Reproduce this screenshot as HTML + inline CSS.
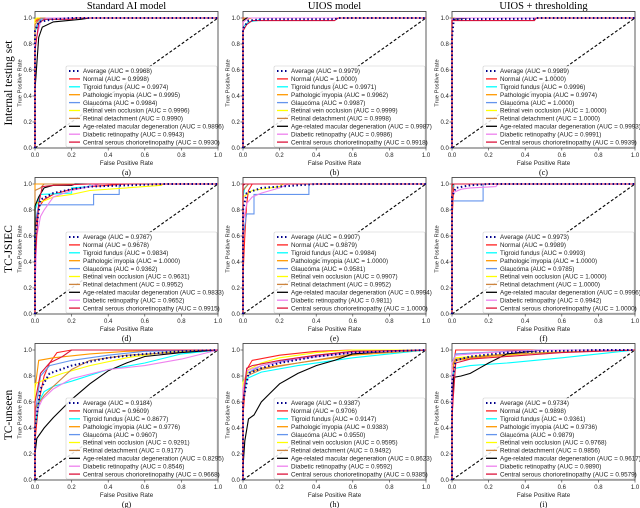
<!DOCTYPE html>
<html><head><meta charset="utf-8"><style>
html,body{margin:0;padding:0;background:#fff;}
svg{display:block;}
</style></head><body>
<svg id="fig" width="640" height="508" viewBox="0 0 640 508" xmlns="http://www.w3.org/2000/svg"></svg>
<script>
const seriesNames = ["Average","Normal","Tigroid fundus","Pathologic myopia","Glaucoma","Retinal vein occlusion","Retinal detachment","Age-related macular degeneration","Diabetic retinopathy","Central serous chorioretinopathy"];
const seriesColors = ["#00008b","#ff2020","#00ffff","#ff9900","#6495ed","#ffff00","#cd853f","#000000","#ee82ee","#dc143c"];
const panelLetters = ["a","b","c","d","e","f","g","h","i"];
const colTitles = ["Standard AI model","UIOS model","UIOS + thresholding"];
const rowTitles = ["Internal testing set","TC-JSIEC","TC-unseen"];
const xTicks = [0,0.2,0.4,0.6,0.8,1.0];
const yTicks = [0,0.2,0.4,0.6,0.8,1.0];
const aucA = ["0.9968","0.9998","0.9974","0.9995","0.9984","0.9996","0.9990","0.9896","0.9943","0.9930"];
const aucB = ["0.9979","1.0000","0.9971","0.9962","0.9987","0.9999","0.9998","0.9987","0.9986","0.9918"];
const aucC = ["0.9989","1.0000","0.9996","0.9974","1.0000","1.0000","1.0000","0.9993","0.9991","0.9939"];
const aucD = ["0.9767","0.9678","0.9834","1.0000","0.9362","0.9631","0.9952","0.9833","0.9652","0.9915"];
const aucE = ["0.9907","0.9879","0.9984","1.0000","0.9581","0.9907","0.9952","0.9994","0.9811","1.0000"];
const aucF = ["0.9973","0.9989","0.9993","1.0000","0.9785","1.0000","1.0000","0.9996","0.9942","1.0000"];
const aucG = ["0.9184","0.9609","0.8677","0.9776","0.9607","0.9291","0.9177","0.8295","0.8546","0.9668"];
const aucH = ["0.9387","0.9706","0.9147","0.9383","0.9550","0.9595","0.9492","0.8623","0.9592","0.9385"];
const aucI = ["0.9734","0.9898","0.9361","0.9736","0.9879","0.9768","0.9856","0.9617","0.9890","0.9579"];
const curvesA = [[0,0,0,0.9,0.02,0.97,0.1,0.99,0.2,1,1,1],[0,0,0,0.97,0.03,1,1,1],[0,0,0,0.9,0.03,0.98,0.1,1,1,1],[0,0,0,0.98,0.02,1,1,1],[0,0,0,0.92,0.03,0.99,0.06,1,1,1],[0,0,0,0.99,0.01,1,1,1],[0,0,0,0.95,0.03,1,1,1],[0,0,0,0.45,0.02,0.85,0.04,0.93,0.1,0.97,0.25,0.99,0.3,1,1,1],[0,0,0,0.8,0.03,0.97,0.06,1,1,1],[0,0,0,0.75,0.02,0.96,0.05,0.99,0.2,0.99,0.22,1,1,1]];
const curvesB = [[0,0,0,0.92,0.03,0.98,0.1,0.99,0.5,0.99,0.52,1,1,1],[0,0,0,1,1,1],[0,0,0,0.93,0.03,0.97,0.08,0.98,0.1,1,1,1],[0,0,0,0.97,0.02,0.99,0.05,1,1,1],[0,0,0,0.98,0.02,1,1,1],[0,0,0,0.99,0.01,1,1,1],[0,0,0,0.99,0.01,1,1,1],[0,0,0,0.98,0.02,1,1,1],[0,0,0,0.97,0.03,1,1,1],[0,0,0,0.9,0.02,0.95,0.05,0.98,0.5,0.98,0.52,1,1,1]];
const curvesC = [[0,0,0,0.85,0.01,0.99,0.45,0.995,0.46,1,1,1],[0,0,0,1,1,1],[0,0,0,0.99,0.01,1,1,1],[0,0,0,0.99,0.02,1,1,1],[0,0,0,1,1,1],[0,0,0,1,1,1],[0,0,0,1,1,1],[0,0,0,0.99,0.1,1,1,1],[0,0,0,0.99,0.02,1,1,1],[0,0,0,0.98,0.45,0.98,0.46,1,1,1]];
const curvesD = [[0,0,0,0.6,0.03,0.88,0.1,0.93,0.2,0.96,0.3,0.98,0.5,0.99,0.7,1,1,1],[0,0,0,0.65,0.02,0.82,0.05,0.88,0.1,0.92,0.2,0.96,0.3,0.98,0.5,1,1,1],[0,0,0,0.8,0.03,0.92,0.2,0.93,0.2,0.97,0.3,0.98,0.3,1,1,1],[0,0,0,1,1,1],[0,0,0,0.7,0.02,0.84,0.32,0.84,0.32,0.92,0.46,0.92,0.46,1,1,1],[0,0,0,0.85,0.05,0.87,0.1,0.9,0.2,0.92,0.3,0.95,0.5,0.97,0.69,0.99,0.7,1,1,1],[0,0,0,0.95,0.03,0.97,0.05,1,1,1],[0,0,0,0.83,0.02,0.9,0.05,0.97,0.1,0.99,0.2,0.99,0.22,1,1,1],[0,0,0,0.2,0.01,0.6,0.03,0.75,0.05,0.8,0.1,0.9,0.2,0.95,0.3,0.98,0.35,1,1,1],[0,0,0,0.4,0.02,0.85,0.04,0.98,0.1,0.99,0.3,1,1,1]];
const curvesE = [[0,0,0,0.8,0.02,0.93,0.1,0.97,0.3,0.99,0.4,1,1,1],[0,0,0,0.3,0.01,0.6,0.02,0.85,0.03,0.95,0.05,1,1,1],[0,0,0,0.9,0.01,0.97,0.03,1,1,1],[0,0,0,1,1,1],[0,0,0,0.6,0.02,0.77,0.06,0.77,0.06,0.92,0.36,0.92,0.36,1,1,1],[0,0,0,0.9,0.05,0.95,0.2,0.98,0.22,1,1,1],[0,0,0,0.95,0.03,1,1,1],[0,0,0,0.99,0.01,1,1,1],[0,0,0,0.7,0.02,0.85,0.05,0.9,0.1,0.93,0.2,0.97,0.25,1,1,1],[0,0,0,1,1,1]];
const curvesF = [[0,0,0,0.9,0.02,0.97,0.1,0.99,0.2,1,1,1],[0,0,0,0.72,0.01,1,1,1],[0,0,0,0.95,0.01,1,1,1],[0,0,0,1,1,1],[0,0,0,0.87,0.17,0.87,0.17,1,1,1],[0,0,0,1,1,1],[0,0,0,1,1,1],[0,0,0,0.99,0.01,1,1,1],[0,0,0,0.93,0.05,0.96,0.1,0.97,0.24,0.98,0.25,1,1,1],[0,0,0,1,1,1]];
const curvesG = [[0,0,0,0.4,0.03,0.7,0.08,0.82,0.2,0.88,0.4,0.94,0.6,0.97,0.8,0.99,1,1],[0,0,0,0.3,0.02,0.6,0.05,0.8,0.08,0.9,0.12,0.98,0.2,1,1,1],[0,0,0,0.4,0.02,0.6,0.05,0.68,0.1,0.72,0.2,0.76,0.4,0.85,0.6,0.9,0.8,0.97,1,1],[0,0,0,0.7,0.02,0.92,0.1,0.94,0.3,0.97,0.5,0.99,1,1],[0,0,0,0.5,0.03,0.8,0.08,0.88,0.2,0.92,0.4,0.96,0.6,0.99,1,1],[0,0,0,0.74,0.05,0.77,0.15,0.82,0.3,0.88,0.5,0.94,0.7,0.98,1,1],[0,0,0,0.55,0.05,0.65,0.1,0.72,0.2,0.85,0.3,0.92,0.5,0.96,1,1],[0,0,0,0.2,0.01,0.32,0.05,0.4,0.1,0.48,0.2,0.62,0.3,0.74,0.4,0.84,0.5,0.9,0.6,0.95,0.8,0.98,1,1],[0,0,0,0.5,0.04,0.62,0.1,0.7,0.2,0.78,0.4,0.85,0.6,0.88,0.8,0.93,1,1],[0,0,0,0.6,0.03,0.82,0.08,0.9,0.15,0.95,0.2,1,1,1]];
const curvesH = [[0,0,0,0.6,0.03,0.82,0.1,0.86,0.2,0.9,0.4,0.95,0.6,0.98,1,1],[0,0,0,0.5,0.02,0.85,0.05,0.92,0.2,0.96,0.4,0.99,0.6,1,1,1],[0,0,0,0.6,0.02,0.78,0.1,0.83,0.3,0.88,0.6,0.94,0.8,0.97,1,1],[0,0,0,0.7,0.02,0.82,0.1,0.86,0.3,0.9,0.6,0.96,1,1],[0,0,0,0.7,0.02,0.82,0.1,0.88,0.3,0.94,0.6,0.99,1,1],[0,0,0,0.75,0.03,0.85,0.1,0.9,0.2,0.94,0.4,0.98,0.6,1,1,1],[0,0,0,0.7,0.02,0.8,0.1,0.85,0.3,0.9,0.6,0.97,1,1],[0,0,0,0.1,0.01,0.3,0.03,0.47,0.06,0.5,0.1,0.6,0.15,0.67,0.2,0.74,0.3,0.82,0.4,0.88,0.5,0.92,0.6,0.97,0.8,0.99,1,1],[0,0,0,0.7,0.02,0.84,0.1,0.88,0.3,0.93,0.6,0.98,1,1],[0,0,0,0.6,0.02,0.86,0.05,0.88,0.2,0.92,0.4,0.96,0.6,0.99,1,1]];
const curvesI = [[0,0,0,0.75,0.02,0.92,0.1,0.95,0.3,0.98,0.5,0.99,0.8,1,1,1],[0,0,0,0.4,0.01,0.9,0.02,1,1,1],[0,0,0,0.8,0.02,0.86,0.1,0.88,0.3,0.9,0.6,0.94,0.8,0.97,1,1],[0,0,0,0.85,0.02,0.92,0.2,0.95,0.5,0.98,1,1],[0,0,0,0.9,0.02,0.97,0.3,0.99,0.5,1,1,1],[0,0,0,0.88,0.02,0.94,0.2,0.96,0.5,0.98,1,1],[0,0,0,0.88,0.02,0.93,0.3,0.97,1,1],[0,0,0,0.6,0.01,0.79,0.05,0.8,0.1,0.82,0.15,0.86,0.2,0.9,0.3,0.97,0.5,1,1,1],[0,0,0,0.9,0.02,0.96,0.2,0.98,0.5,1,1,1],[0,0,0,0.5,0.02,0.9,0.1,0.93,0.3,0.95,0.6,0.98,1,1]];
const panelAucs = [aucA,aucB,aucC,aucD,aucE,aucF,aucG,aucH,aucI];
const panelCurves = [curvesA,curvesB,curvesC,curvesD,curvesE,curvesF,curvesG,curvesH,curvesI];

const NS = "http://www.w3.org/2000/svg";
const svg = document.getElementById("fig");
const colX = [35,243,452], rowY1 = [18,184,350], PW = 183, PH = 130;
function mk(tag, attrs, parent){ const e=document.createElementNS(NS,tag); for(const k in attrs) e.setAttribute(k,attrs[k]); (parent||svg).appendChild(e); return e; }
function txt(s, attrs, parent){ const t=mk("text",attrs,parent); t.textContent=s; return t; }

colTitles.forEach((s,i)=>{
  const t = txt(s,{x:colX[i]+PW/2,y:9,"text-anchor":"middle","font-family":"Liberation Serif, serif","font-size":"10.5"});
  
  
});
rowTitles.forEach((s,i)=>{
  const cy = rowY1[i]+PH/2;
  const t = txt(s,{x:0,y:0,transform:`translate(12,${cy}) rotate(-90)`,"text-anchor":"middle","font-family":"Liberation Serif, serif","font-size":"11.5"});
  
  
});

for(let p=0;p<9;p++){
  const c=p%3, r=Math.floor(p/3);
  const x0=colX[c], y1=rowY1[r], y0=y1+PH;
  const sx=v=>x0+v*PW, sy=v=>y0-v*PH;
  const g = mk("g",{});
  
  
  const fr = mk("rect",{x:x0,y:y1-6.5,width:PW,height:PH+6.5,fill:"none",stroke:"#333","stroke-width":0.8},g);
  
  
  xTicks.forEach(v=>{
    mk("line",{x1:sx(v),x2:sx(v),y1:y0,y2:y0+2.5,stroke:"#333","stroke-width":0.6},g);
    const t=txt(v.toFixed(1),{x:sx(v),y:y0+9,"text-anchor":"middle","font-family":"Liberation Sans, sans-serif","font-size":"6",fill:"#222"},g);
    
    
  });
  yTicks.forEach(v=>{
    mk("line",{x1:x0-2.5,x2:x0,y1:sy(v),y2:sy(v),stroke:"#333","stroke-width":0.6},g);
    const t=txt(v.toFixed(1),{x:x0-3.2,y:sy(v)+2.1,"text-anchor":"end","font-family":"Liberation Sans, sans-serif","font-size":"6",fill:"#222"},g);
    
    
  });
  const xl=txt("False Positive Rate",{x:x0+PW/2,y:y0+17,"text-anchor":"middle","font-family":"Liberation Sans, sans-serif","font-size":"6.2",fill:"#222"},g);
  
  
  const yl=txt("True Positive Rate",{x:0,y:0,transform:`translate(${x0-13.5},${y0-PH/2}) rotate(-90)`,"text-anchor":"middle","font-family":"Liberation Sans, sans-serif","font-size":"5.8",fill:"#222"},g);
  
  
  const cap=txt("("+panelLetters[p]+")",{x:x0+PW/2,y:y0+27,"text-anchor":"middle","font-family":"Liberation Serif, serif","font-size":"8"},g);
  
  
  const dg=mk("line",{x1:sx(0),y1:sy(0),x2:sx(1),y2:sy(1),stroke:"#000","stroke-width":1.1,"stroke-dasharray":"3,2"},g);
  
  
  const order=[1,2,3,4,5,6,7,8,9,0];
  order.forEach(si=>{
    const arr=panelCurves[p][si];
    let pts=[];
    for(let k=0;k<arr.length;k+=2) pts.push(sx(arr[k]).toFixed(1)+","+sy(arr[k+1]).toFixed(1));
    const attrs={points:pts.join(" "),fill:"none",stroke:seriesColors[si],"stroke-width":si===0?2:1.1};
    if(si===0){attrs["stroke-dasharray"]="1.5,2.5";}
    const pl=mk("polyline",attrs,g);
    
    
  });
  const lg=mk("g",{},g);
  
  
  const lx=x0+31, ly=y1+48, rh=7.9;
  const bg=mk("rect",{x:lx,y:ly,width:150,height:rh*10+2,fill:"#fff","fill-opacity":0.85,stroke:"#ccc","stroke-width":0.6,rx:1.5},lg);
  let maxW=0; const texts=[];
  seriesNames.forEach((n,i)=>{
    const yy=ly+5+i*rh;
    const ln=mk("line",{x1:lx+3,x2:lx+14,y1:yy,y2:yy,stroke:seriesColors[i],"stroke-width":i===0?2:1.3,"stroke-dasharray":i===0?"1.5,2.5":"none"},lg);
    
    
    const t=txt(n+" (AUC = "+panelAucs[p][i]+")",{x:lx+17,y:yy+2.2,"font-family":"Liberation Sans, sans-serif","font-size":"6.3",fill:"#222"},lg);
    
    
    texts.push(t);
  });
  texts.forEach(t=>{ maxW=Math.max(maxW,t.getComputedTextLength()); });
  bg.setAttribute("width",Math.min(17+maxW+3, x0+PW-1-lx));
}
</script>
</body></html>
